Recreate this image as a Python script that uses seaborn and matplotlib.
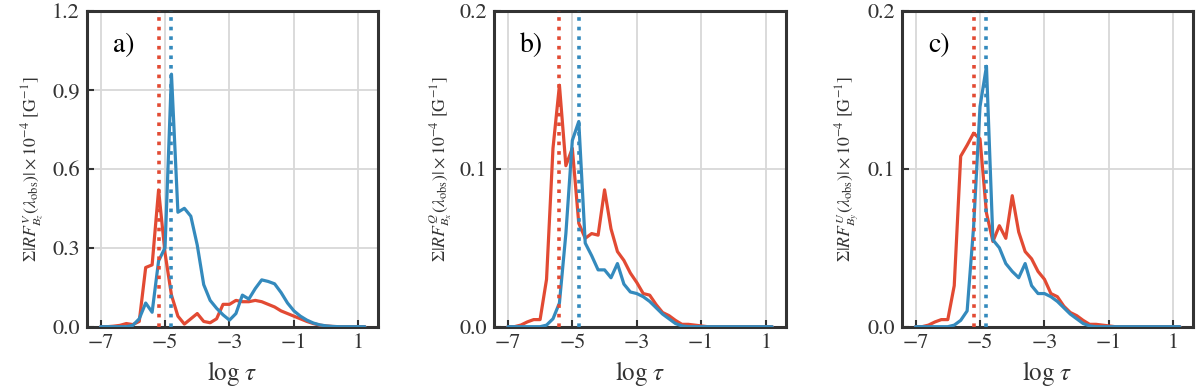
import numpy as np
import pandas as pd
import matplotlib
matplotlib.use("Agg")
import matplotlib.pyplot as plt
import seaborn as sns

# ---------------- data ----------------
log_tau = [round(-7.0 + 0.2 * i, 1) for i in range(42)]  # -7.0 ... 1.2

# panel a (V, Bz)
a_red = [0, 0, 0.002, 0.005, 0.012, 0.008, 0.02, 0.225, 0.235, 0.52,
         0.28, 0.12, 0.04, 0.01, 0.03, 0.05, 0.02, 0.015, 0.03, 0.085,
         0.085, 0.1, 0.095, 0.095, 0.1, 0.095, 0.085, 0.075, 0.06, 0.05,
         0.04, 0.03, 0.02, 0.012, 0.006, 0.003, 0.001, 0, 0, 0, 0, 0]
a_blue = [0, 0, 0, 0, 0, 0.005, 0.03, 0.09, 0.055, 0.25,
          0.30, 0.96, 0.435, 0.45, 0.42, 0.31, 0.16, 0.10, 0.07, 0.045,
          0.025, 0.05, 0.12, 0.105, 0.145, 0.178, 0.172, 0.163, 0.13, 0.09,
          0.06, 0.04, 0.025, 0.014, 0.007, 0.003, 0.001, 0, 0, 0, 0, 0]

# panel b (Q, Bx)
b_red = [0, 0, 0.001, 0.003, 0.0045, 0.0045, 0.03, 0.113, 0.153, 0.102,
         0.113, 0.0655, 0.056, 0.059, 0.058, 0.0867, 0.062, 0.0476, 0.042, 0.034,
         0.028, 0.021, 0.020, 0.014, 0.009, 0.007, 0.004, 0.0015, 0.0015, 0.001,
         0.0005, 0, 0, 0, 0, 0, 0, 0, 0, 0, 0, 0]
b_blue = [0, 0, 0, 0, 0, 0, 0.001, 0.005, 0.015, 0.059,
          0.118, 0.13, 0.053, 0.045, 0.036, 0.036, 0.031, 0.04, 0.027, 0.022,
          0.021, 0.019, 0.016, 0.012, 0.008, 0.005, 0.002, 0.0005, 0, 0,
          0, 0, 0, 0, 0, 0, 0, 0, 0, 0, 0, 0]

# panel c (U, By)
c_red = [0, 0, 0.001, 0.003, 0.0045, 0.0045, 0.026, 0.108, 0.115, 0.1226,
         0.119, 0.072, 0.054, 0.064, 0.056, 0.083, 0.060, 0.0476, 0.043, 0.035,
         0.030, 0.021, 0.019, 0.013, 0.009, 0.007, 0.004, 0.0015, 0.0015, 0.001,
         0.0005, 0, 0, 0, 0, 0, 0, 0, 0, 0, 0, 0]
c_blue = [0, 0, 0, 0, 0, 0, 0.001, 0.004, 0.01, 0.063,
          0.1395, 0.165, 0.055, 0.05, 0.04, 0.035, 0.031, 0.04, 0.026, 0.021,
          0.021, 0.019, 0.016, 0.012, 0.008, 0.005, 0.002, 0.0005, 0, 0,
          0, 0, 0, 0, 0, 0, 0, 0, 0, 0, 0, 0]

vline_red = [-5.2, -5.4, -5.2]
vline_blue = [-4.8, -4.8, -4.8]

panel_labels = ["a)", "b)", "c)"]
ylabels = [r"$\Sigma|RF^{V}_{B_z}(\lambda_{\rm obs})|\times10^{-4}\ [\rm G^{-1}]$",
           r"$\Sigma|RF^{Q}_{B_x}(\lambda_{\rm obs})|\times10^{-4}\ [\rm G^{-1}]$",
           r"$\Sigma|RF^{U}_{B_y}(\lambda_{\rm obs})|\times10^{-4}\ [\rm G^{-1}]$"]
yticks_list = [[0.0, 0.3, 0.6, 0.9, 1.2], [0.0, 0.1, 0.2], [0.0, 0.1, 0.2]]
xticks = [-7, -5, -3, -1, 1]

RED = "#E24A33"
BLUE = "#348ABD"
DARK = "#333333"

# ---------------- style ----------------
sns.set_theme(style="whitegrid")
plt.rcParams["font.family"] = ["STIXGeneral", "DejaVu Serif"]
plt.rcParams["mathtext.fontset"] = "stix"
plt.rcParams["axes.unicode_minus"] = True

fig = plt.figure(figsize=(12, 3.92), dpi=100)
lefts = [86.7 / 1200, 494 / 1200, 901.7 / 1200]
w = 291.7 / 1200
bottom = (392 - 326.7) / 392
h = 315.7 / 392

series = [(a_red, a_blue), (b_red, b_blue), (c_red, c_blue)]

for i in range(3):
    ax = fig.add_axes([lefts[i], bottom, w, h])
    red, blue = series[i]
    df = pd.DataFrame({"log_tau": log_tau + log_tau,
                       "val": red + blue,
                       "kind": ["red"] * len(red) + ["blue"] * len(blue)})
    sns.lineplot(data=df, x="log_tau", y="val", hue="kind",
                 palette={"red": RED, "blue": BLUE}, lw=2.3, ax=ax,
                 legend=False, zorder=3)
    ax.axvline(vline_red[i], color=RED, ls=":", lw=2.6, zorder=4)
    ax.axvline(vline_blue[i], color=BLUE, ls=":", lw=2.6, zorder=4)

    ax.set_xlim(-7.43, 1.62)
    yt = yticks_list[i]
    ax.set_ylim(yt[0], yt[-1])
    ax.set_xticks(xticks)
    ax.set_yticks(yt)
    ax.set_yticklabels([f"{v:.1f}" for v in yt])
    ax.grid(True, color="#d8d8d8", lw=1.3)
    ax.set_axisbelow(True)
    for s in ax.spines.values():
        s.set_color(DARK)
        s.set_linewidth(2.2)
        s.set_visible(True)
    ax.tick_params(axis="both", which="major", direction="in", length=5,
                   width=1.5, color=DARK, labelsize=16, labelcolor=DARK,
                   bottom=True, left=True, top=False, right=False, pad=5)
    ax.set_xlabel(r"$\log\,\tau$", fontsize=18, color=DARK, labelpad=4)
    ax.set_ylabel(ylabels[i], fontsize=12.8, color=DARK, labelpad=4)
    ax.text(0.09, 0.87, panel_labels[i], transform=ax.transAxes,
            fontsize=20, color="black")

fig.savefig("out.png", dpi=100)
